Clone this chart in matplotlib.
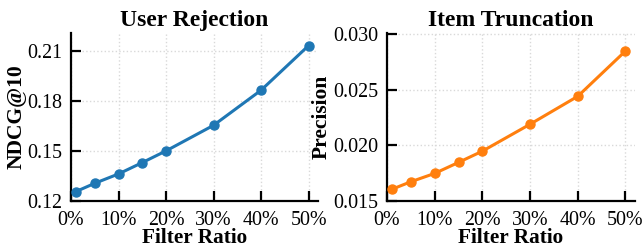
import matplotlib
matplotlib.use("Agg")
import matplotlib.pyplot as plt
from matplotlib.ticker import FuncFormatter

filter_ratio = [1, 5, 10, 15, 20, 30, 40, 50]
ndcg = [0.1256, 0.1306, 0.1362, 0.1430, 0.1500, 0.1653, 0.1863, 0.2130]
precision = [0.01605, 0.01673, 0.01748, 0.01847, 0.01948, 0.0219, 0.02441, 0.02848]
x_ticks = [0, 10, 20, 30, 40, 50]
ndcg_ticks = [0.12, 0.15, 0.18, 0.21]
prec_ticks = [0.015, 0.020, 0.025, 0.030]

plt.rcParams['font.family'] = ['Liberation Serif', 'DejaVu Serif']

fig = plt.figure(figsize=(6.42, 2.48), dpi=100)
ax1 = fig.add_axes([71/642, 1-201/248, (318-71)/642, (201-33)/248])
ax2 = fig.add_axes([387/642, 1-201/248, (635-387)/642, (201-33)/248])

def style(ax, y, color, yticks, ylim, ylabel, title, yfmt):
    ax.plot(filter_ratio, y, color=color, lw=2.2, marker='o', ms=6.5, zorder=3)
    ax.set_xlim(0, 52)
    ax.set_ylim(*ylim)
    ax.set_xticks(x_ticks)
    ax.xaxis.set_major_formatter(FuncFormatter(lambda v, p: f"{int(v)}%"))
    ax.set_yticks(yticks)
    ax.yaxis.set_major_formatter(FuncFormatter(yfmt))
    ax.grid(True, color='#d9d9d9', linestyle=':', linewidth=1.0)
    ax.spines['top'].set_visible(False)
    ax.spines['right'].set_visible(False)
    for s in ('left', 'bottom'):
        ax.spines[s].set_linewidth(1.6)
    ax.tick_params(direction='in', length=7, width=1.6, labelsize=14.4)
    ax.tick_params(axis='x', pad=7)
    ax.tick_params(axis='y', pad=6)
    ax.set_xlabel('Filter Ratio', fontsize=15.3, fontweight='bold', labelpad=-1)
    ax.set_ylabel(ylabel, fontsize=15.5, fontweight='bold', labelpad=1)
    ax.set_title(title, fontsize=17, fontweight='bold', pad=5)

style(ax1, ndcg, '#1f77b4', ndcg_ticks, (0.12, 0.2206), 'NDCG@10', 'User Rejection',
      lambda v, p: f"{v:.2f}")
style(ax2, precision, '#ff7f0e', prec_ticks, (0.015, 0.0301), 'Precision', 'Item Truncation',
      lambda v, p: f"{v:.3f}")

fig.savefig('out.png', dpi=100)
